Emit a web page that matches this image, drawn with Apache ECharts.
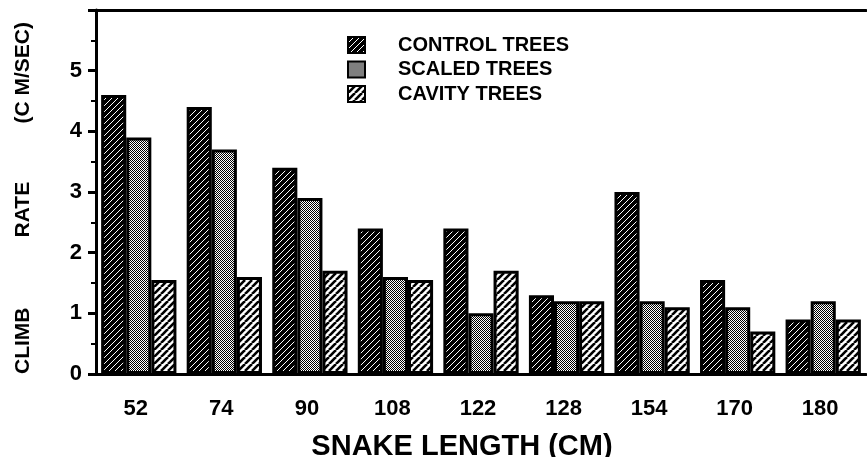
<!DOCTYPE html>
<html><head><meta charset="utf-8">
<script src="https://cdn.jsdelivr.net/npm/echarts@6/dist/echarts.min.js"></script>
<style>html,body{margin:0;padding:0;background:#fff}#c{width:867px;height:457px}</style>
</head><body><div id="c"></div>
<script>
const categories = ['52','74','90','108','122','128','154','170','180'];
const controlTrees = [4.6, 4.4, 3.4, 2.4, 2.4, 1.3, 3.0, 1.55, 0.9];
const scaledTrees  = [3.9, 3.7, 2.9, 1.6, 1.0, 1.2, 1.2, 1.1, 1.2];
const cavityTrees  = [1.55, 1.6, 1.7, 1.55, 1.7, 1.2, 1.1, 0.7, 0.9];
const seriesNames = ['CONTROL TREES', 'SCALED TREES', 'CAVITY TREES'];

function hatch(size, bg, fg, lw) {
  const c = document.createElement('canvas');
  c.width = size; c.height = size;
  const g = c.getContext('2d');
  g.fillStyle = bg; g.fillRect(0, 0, size, size);
  g.strokeStyle = fg; g.lineWidth = lw;
  for (const o of [-size, 0, size]) {
    g.beginPath(); g.moveTo(o, size); g.lineTo(o + size, 0); g.stroke();
  }
  return c;
}
function checker() {
  const c = document.createElement('canvas');
  c.width = 2; c.height = 2;
  const g = c.getContext('2d');
  g.fillStyle = '#fff'; g.fillRect(0, 0, 2, 2);
  g.fillStyle = '#000'; g.fillRect(0, 0, 1, 1); g.fillRect(1, 1, 1, 1);
  return c;
}
const patControl = { image: hatch(6, '#000', '#fff', 1), repeat: 'repeat' };
const patScaled = { image: checker(), repeat: 'repeat' };
const patCavity = { image: hatch(7, '#fff', '#000', 2.6), repeat: 'repeat' };

const font = '"Liberation Sans", Arial, sans-serif';
const chart = echarts.init(document.getElementById('c'), null, { renderer: 'canvas' });
const mk = (name, data, pat) => ({
  name, type: 'bar', data, barGap: '0%', barCategoryGap: '12%',
  itemStyle: { color: pat, borderColor: '#000', borderWidth: 3 },
  animation: false
});
chart.setOption({
  animation: false,
  backgroundColor: '#fff',
  grid: { left: 96, right: 1, top: 10, bottom: 83, containLabel: false, outerBoundsMode: 'none' },
  legend: {
    orient: 'vertical', left: 342, top: 30,
    itemWidth: 17, itemHeight: 16, itemGap: 4.5,
    icon: 'rect',
    textStyle: { fontFamily: font, fontSize: 20, fontWeight: 'bold', color: '#000', padding: [0, 0, 0, 28] },
    data: seriesNames
  },
  xAxis: [{
    type: 'category', data: categories,
    axisLine: { lineStyle: { color: '#000', width: 3 } },
    axisTick: { alignWithLabel: true, length: 8, lineStyle: { color: '#000', width: 3 } },
    axisLabel: { color: '#000', fontFamily: font, fontSize: 22, fontWeight: 'bold', margin: 24, padding: [0, 6, 0, 0] },
    name: 'SNAKE LENGTH (CM)', nameLocation: 'middle', nameGap: 58,
    nameTextStyle: { color: '#000', fontFamily: font, fontSize: 29, fontWeight: 'bold', padding: [0, 38, 0, 0] }
  }, {
    type: 'category', data: categories, position: 'top',
    axisLine: { lineStyle: { color: '#000', width: 3 } },
    axisTick: { show: false }, axisLabel: { show: false }
  }],
  yAxis: {
    type: 'value', min: 0, max: 6, interval: 1,
    axisLine: { show: true, lineStyle: { color: '#000', width: 3 } },
    axisTick: { show: true, length: 8, lineStyle: { color: '#000', width: 3 } },
    minorTick: { show: true, splitNumber: 2, length: 5, lineStyle: { color: '#000', width: 2 } },
    splitLine: { show: false },
    axisLabel: { color: '#000', fontFamily: font, fontSize: 22, fontWeight: 'bold', margin: 14, showMaxLabel: false },
    name: 'CLIMB            RATE          (C M/SEC)', nameLocation: 'middle', nameGap: 62,
    nameTextStyle: { color: '#000', fontFamily: font, fontSize: 21, fontWeight: 'bold', padding: [0, 12, 0, 0] }
  },
  series: [
    mk(seriesNames[0], controlTrees, patControl),
    mk(seriesNames[1], scaledTrees, patScaled),
    mk(seriesNames[2], cavityTrees, patCavity)
  ]
});
</script></body></html>
